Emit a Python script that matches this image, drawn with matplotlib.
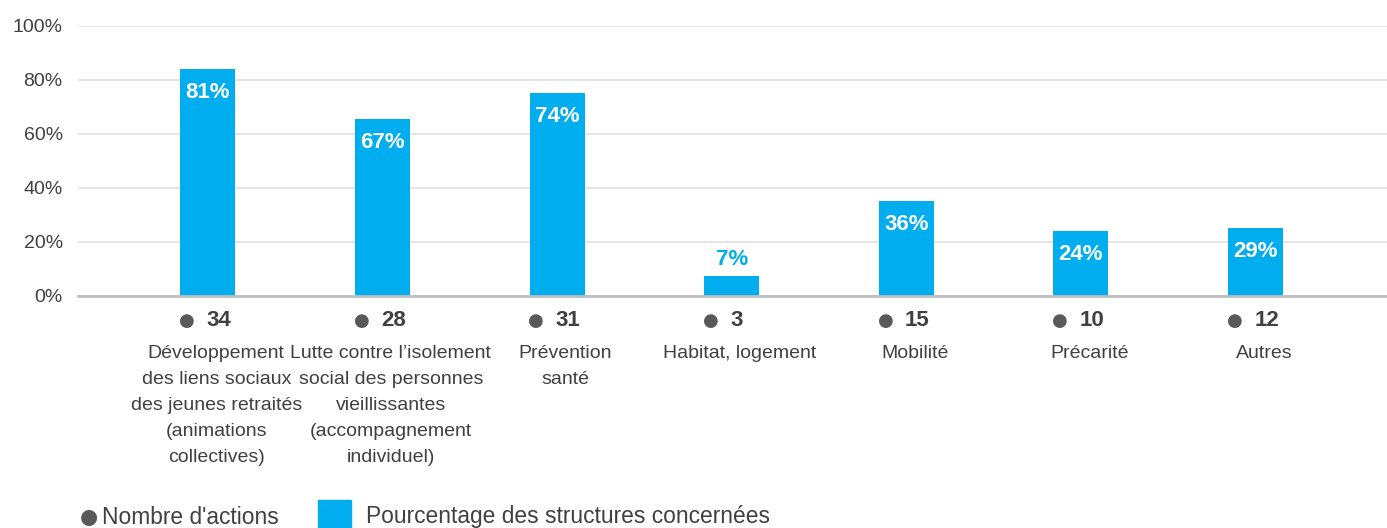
import matplotlib.pyplot as plt
from matplotlib.patches import Rectangle
import numpy as np

# Data
categories = [
    "Développement\ndes liens sociaux\ndes jeunes retraités\n(animations\ncollectives)",
    "Lutte contre l\u2019isolement\nsocial des personnes\nvieillissantes\n(accompagnement\nindividuel)",
    "Prévention\nsanté",
    "Habitat, logement",
    "Mobilité",
    "Précarité",
    "Autres",
]
nb_actions = [34, 28, 31, 3, 15, 10, 12]
pct_bars = [84, 65.5, 75, 7.4, 35, 24, 25]        # bar heights as drawn
pct_labels = ["81%", "67%", "74%", "7%", "36%", "24%", "29%"]

BLUE = "#00aeef"
DOT = "#595959"
TXT = "#404040"

plt.rcParams["font.family"] = ["Liberation Sans Narrow", "Liberation Sans", "DejaVu Sans"]

fig = plt.figure(figsize=(13.87, 5.28), dpi=100)
ax = fig.add_axes([0.0562, 0.4394, 0.9438, 0.5114])

x = np.arange(len(categories))
ax.bar(x, pct_bars, width=0.315, color=BLUE, zorder=3)

ax.set_xlim(-0.744, 6.753)
ax.set_ylim(0, 100)
ax.set_yticks(np.arange(0, 101, 20))
ax.set_yticklabels([f"{v}%" for v in range(0, 101, 20)])
ax.tick_params(axis="y", length=0, pad=11, labelsize=14, labelcolor=TXT)
ax.set_xticks([])
ax.grid(axis="y", color="#e0e0e0", linewidth=1.2, zorder=0)
for s in ["top", "right", "left"]:
    ax.spines[s].set_visible(False)
ax.spines["bottom"].set_color("#bfbfbf")
ax.spines["bottom"].set_linewidth(2)
ax.spines["bottom"].set_zorder(4)

# percentage labels
for xi, h, lab in zip(x, pct_bars, pct_labels):
    if h < 12:
        ax.annotate(lab, (xi, h), xytext=(0, 4), textcoords="offset points",
                    ha="center", va="bottom", color=BLUE, fontsize=16,
                    fontweight="bold")
    else:
        ax.annotate(lab, (xi, h), xytext=(0, -9), textcoords="offset points",
                    ha="center", va="top", color="white", fontsize=16,
                    fontweight="bold")

# number of actions + category names below the axis
for xi, n, cat in zip(x, nb_actions, categories):
    ax.annotate("\u25cf", (xi, 0), xytext=(-15, -18), textcoords="offset points",
                ha="center", va="center", color=DOT, fontsize=13,
                family=["DejaVu Sans"], annotation_clip=False)
    ax.annotate(str(n), (xi, 0), xytext=(-1, -18), textcoords="offset points",
                ha="left", va="center", color=TXT, fontsize=16,
                fontweight="bold", annotation_clip=False)
    ax.annotate(cat, (xi, 0), xytext=(6, -35), textcoords="offset points",
                ha="center", va="top", color=TXT, fontsize=14,
                linespacing=1.7, annotation_clip=False)

# legend
fig.text(89 / 1387, 1 - 517 / 528, "\u25cf", ha="center", va="center",
         color=DOT, fontsize=15, family=["DejaVu Sans"])
fig.text(102 / 1387, 1 - 517 / 528, "Nombre d'actions", ha="left",
         va="center", color=TXT, fontsize=16.4)
fig.patches.append(Rectangle((318 / 1387, 0), 33 / 1387, 28 / 528,
                             transform=fig.transFigure, color=BLUE))
fig.text(366 / 1387, 1 - 517 / 528, "Pourcentage des structures concernées",
         ha="left", va="center", color=TXT, fontsize=16.4)

fig.savefig("out.png", dpi=100)
